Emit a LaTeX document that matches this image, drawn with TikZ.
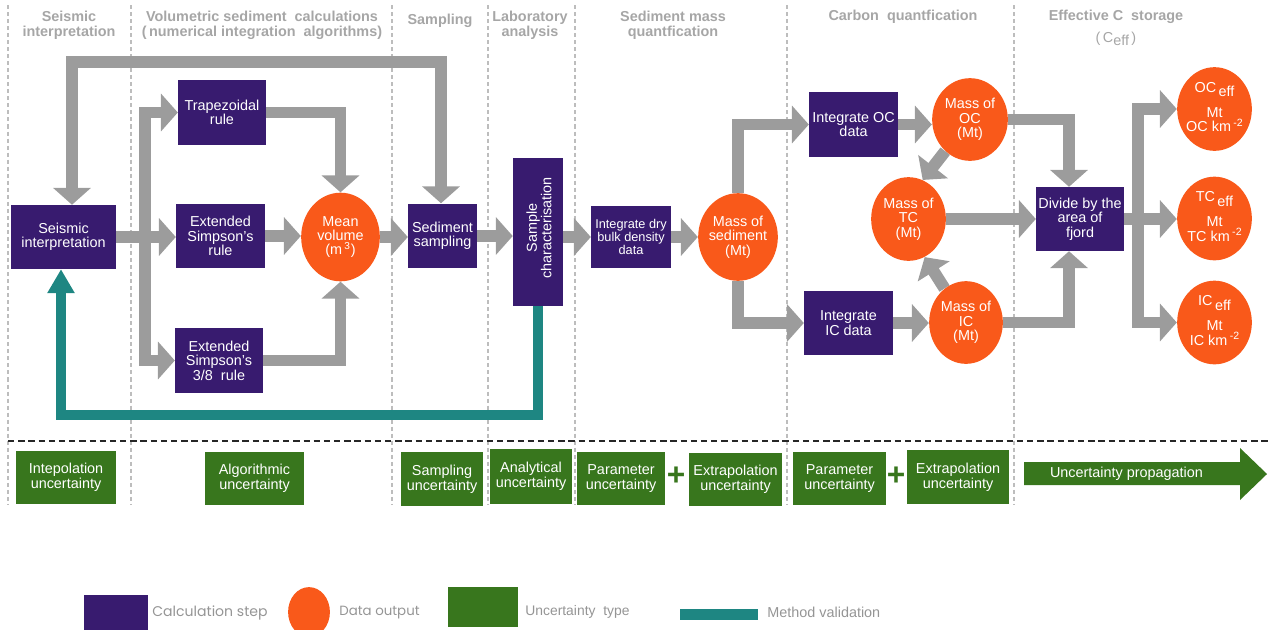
\documentclass[tikz,border=0pt]{standalone}
\usepackage{fontspec}
\setmainfont{Liberation Sans}
\newfontfamily\pop{Poppins}
\usetikzlibrary{arrows.meta,shapes.geometric}
\definecolor{cpur}{HTML}{381B6F}
\definecolor{cora}{HTML}{F9591A}
\definecolor{cgra}{HTML}{9C9C9C}
\definecolor{ctea}{HTML}{1E8682}
\definecolor{cgre}{HTML}{38761D}
\definecolor{chdr}{HTML}{A6A6A6}
\definecolor{cleg}{HTML}{959595}
\definecolor{csep}{HTML}{BDBDBD}
\newcommand\fs{\fontsize{8.2}{8.2}\selectfont}
\pgfdeclarelayer{bg}
\pgfsetlayers{bg,main}
\begin{document}
\begin{tikzpicture}[x=0.02cm,y=-0.02cm,
  sz/.style 2 args={minimum width=#1*0.5669pt, minimum height=#2*0.5669pt},
  calc/.style={rectangle, fill=cpur, text=white, inner sep=0pt, align=center, font=\fs},
  dout/.style={ellipse, fill=cora, inner sep=0pt},
  dtxt/.style={text=white, align=center, font=\fs, inner sep=0pt},
  unc/.style={rectangle, fill=cgre, text=white, inner sep=0pt, align=center, font=\fontsize{8.2}{8.7}\selectfont},
  hdr/.style={text=chdr, font=\fontsize{8.2}{8.5}\selectfont\bfseries, align=center, inner sep=0pt},
  sepl/.style={draw=csep, line width=1.1pt, dash pattern=on 2.3pt off 1.7pt},
  hdash/.style={draw=black!85, line width=0.8pt, dash pattern=on 3.6pt off 2.2pt},
  gline/.style={draw=cgra, line width=6.8pt, line join=miter},
  garrow/.style={gline, -{Triangle[length=9.6pt,width=21pt]}},
  tarrow/.style={draw=ctea, line width=5.7pt, line join=miter, -{Triangle[length=13.6pt,width=14.7pt]}},
  legtxt/.style={text=cleg, anchor=west, inner sep=0pt},
  plus/.style={text=cgre, font=\fontsize{18}{18}\selectfont\bfseries, inner sep=0pt},
]
\useasboundingbox (0,0) rectangle (1270,629);
\clip (0,0) rectangle (1270,629);

% headers
\node[hdr] (h1) at (69,25) {Seismic\\interpretation};
\node[hdr] (h2) at (262,25) {Volumetric sediment~~calculations\\(\,numerical integration~~algorithms)};
\node[hdr] (h3) at (440,21) {Sampling};
\node[hdr] (h4) at (530,25) {Laboratory\\analysis};
\node[hdr] (h5) at (673,25) {Sediment mass\\quantfication};
\node[hdr] (h6) at (903,17) {Carbon~~quantfication};
\node[hdr] (h7) at (1116,28) {Effective C~~storage\\[4pt]{\mdseries(\,C\raisebox{-1.5pt}{eff}\,)}};

% calculation steps
\node[calc, sz={105}{64}] (seis) at (63.5,237) {Seismic\\interpretation};
\node[calc, sz={88}{65}] (trap) at (222,112.5) {Trapezoidal\\rule};
\node[calc, sz={89}{64}] (simp) at (220.5,236) {Extended\\Simpson’s\\rule};
\node[calc, sz={88}{65}] (simpb) at (219,360.5) {Extended\\Simpson’s\\3/8~~rule};
\node[calc, sz={69}{65}] (sedsamp) at (442.5,236) {Sediment\\sampling};
\node[calc, sz={50}{148}] (samchar) at (538,232) {};
\node[dtxt, rotate=90] (samchart) at (539,228) {Sample\\characterisation};
\node[calc, sz={80}{62}, font=\fontsize{7.25}{7.25}\selectfont] (dbd) at (631,237) {Integrate dry\\bulk density\\data};
\node[calc, sz={89}{65}] (ioc) at (853.5,124.5) {Integrate OC\\data};
\node[calc, sz={89}{64}] (iic) at (848.5,323) {Integrate\\IC data};
\node[calc, sz={88}{64}] (div) at (1080,219) {Divide by the\\area of\\fjord};

% data outputs
\node[dout, sz={79}{89}] (meanv) at (340.5,237) {};
\node[dtxt] (meanvt) at (meanv) {Mean\\volume\\(m\,\textsuperscript{3})};
\node[dout, sz={80}{88}] (msed) at (738,237) {};
\node[dtxt] (msedt) at (msed) {Mass of\\sediment\\(Mt)};
\node[dout, sz={76}{83}] (moc) at (970,119.5) {};
\node[dtxt] (moct) at (moc) {Mass of\\OC\\(Mt)};
\node[dout, sz={75}{84}] (mtc) at (908.5,219) {};
\node[dtxt] (mtct) at (mtc) {Mass of\\TC\\(Mt)};
\node[dout, sz={74}{83}] (mic) at (966,322.5) {};
\node[dtxt] (mict) at (mic) {Mass of\\IC\\(Mt)};
\node[dout, sz={75}{84}] (ocf) at (1214.5,109) {};
\node[dtxt] (ocft) at (1214.5,107) {OC\,\raisebox{-2.5pt}{eff}\\[5pt]Mt\\OC km\,\raisebox{3pt}{\fontsize{6}{6}\selectfont -2}};
\node[dout, sz={75}{84}] (tcf) at (1214.5,218.5) {};
\node[dtxt] (tcft) at (1214.5,216.5) {TC\,\raisebox{-2.5pt}{eff}\\[5pt]Mt\\TC km\,\raisebox{3pt}{\fontsize{6}{6}\selectfont -2}};
\node[dout, sz={75}{84}] (icf) at (1214.5,322.5) {};
\node[dtxt] (icft) at (1214.5,320.5) {IC\,\raisebox{-2.5pt}{eff}\\[5pt]Mt\\IC km\,\raisebox{3pt}{\fontsize{6}{6}\selectfont -2}};

% uncertainty row
\node[unc, sz={100}{53}] (u1) at (66,477.5) {Intepolation\\uncertainty};
\node[unc, sz={99}{53}] (u2) at (254.5,478.5) {Algorithmic\\uncertainty};
\node[unc, sz={82}{54}] (u3) at (442,479) {Sampling\\uncertainty};
\node[unc, sz={82}{55}] (u4) at (531,476.5) {Analytical\\uncertainty};
\node[unc, sz={88}{53}] (u5) at (621,478.5) {Parameter\\uncertainty};
\node[plus] (p1) at (676,476) {+};
\node[unc, sz={93}{53}] (u6) at (735.5,479.5) {Extrapolation\\uncertainty};
\node[unc, sz={93}{53}] (u7) at (839.5,478.5) {Parameter\\uncertainty};
\node[plus] (p2) at (896,476) {+};
\node[unc, sz={102}{54}] (u8) at (958,477) {Extrapolation\\uncertainty};
\fill[cgre] (1024,462) -- (1240,462) -- (1240,448) -- (1267,474) -- (1240,500) -- (1240,485) -- (1024,485) -- cycle;
\node[dtxt] (uprop) at (1126.5,474) {Uncertainty propagation};

% legend
\node[calc, sz={64}{36}, anchor=north west] (lg1) at (84,595) {};
\node[legtxt, font=\pop\fontsize{8}{8}\selectfont] (lt1) at (152,613) {Calculation step};
\node[dout, sz={42}{50}] (lg2) at (309,612) {};
\node[legtxt, font=\pop\fontsize{7.6}{7.6}\selectfont] (lt2) at (339,613) {Data output};
\node[unc, sz={70}{40}, anchor=north west] (lg3) at (448,587) {};
\node[legtxt, font=\fontsize{7.9}{8}\selectfont] (lt3) at (525,612) {Uncertainty~~type};
\node[fill=ctea, sz={78}{11}, anchor=north west, inner sep=0pt] (lg4) at (680,609) {};
\node[legtxt, font=\fontsize{8.2}{8}\selectfont] (lt4) at (767,612) {Method validation};

\begin{pgfonlayer}{bg}
  \foreach \xx in {8,131,392,488,575,787,1014} \draw[sepl] (\xx,5) -- (\xx,505);
  \draw[hdash] (8,441) -- (1270,441);

  % feedback from top
  \coordinate (fbL) at (72,62);
  \coordinate (fbR) at (441,62);
  \draw[gline, {Triangle[length=9.6pt,width=21pt]}-{Triangle[length=9.6pt,width=21pt]}]
     (fbL |- seis.north) -- (fbL) -- (fbR) -- (fbR |- sedsamp.north);

  % branching to integration rules
  \coordinate (trk) at (145,0);
  \draw[garrow] (trk |- simpb.west) |- (trap.west);
  \draw[garrow] (trk |- trap.west) |- (simpb.west);
  \draw[garrow] (seis.east) -- (seis.east -| simp.west);

  \draw[garrow] (trap.east) -| (meanv.north);
  \draw[garrow] (simpb.east) -| (meanv.south);
  \draw[garrow] (simp.east) -- (simp.east -| meanv.west);
  \draw[garrow] (meanv) -- (meanv -| sedsamp.west);
  \draw[garrow] (sedsamp.east) -- (sedsamp.east -| samchar.west);
  \draw[garrow] (samchar.east |- dbd.west) -- (dbd.west);
  \draw[garrow] (dbd.east) -- (dbd.east -| msed.west);

  \draw[garrow] (msed) |- (ioc.west);
  \draw[garrow] (msed) |- (iic.west);
  \draw[garrow] (ioc.east) -- (ioc.east -| moc.west);
  \draw[garrow] (iic.east) -- (iic.east -| mic.west);
  \draw[garrow] (moc) -- (mtc.70);
  \draw[garrow] (mic) -- (mtc.293);
  \draw[garrow] (mtc) -- (mtc -| div.west);

  \coordinate (xd) at (1069,0);
  \draw[garrow] (moc) -| (xd |- div.north);
  \draw[garrow] (mic) -| (xd |- div.south);

  \coordinate (xo) at (1138,0);
  \draw[garrow] (div.east) -- (div.east -| tcf.west);
  \draw[garrow] (xo |- icf.west) |- (ocf.west);
  \draw[garrow] (xo |- ocf.west) |- (icf.west);

  % method validation
  \coordinate (tb) at (61,415);
  \draw[tarrow] (samchar.south) |- (tb) -- (tb |- seis.south);
\end{pgfonlayer}
\end{tikzpicture}
\end{document}
